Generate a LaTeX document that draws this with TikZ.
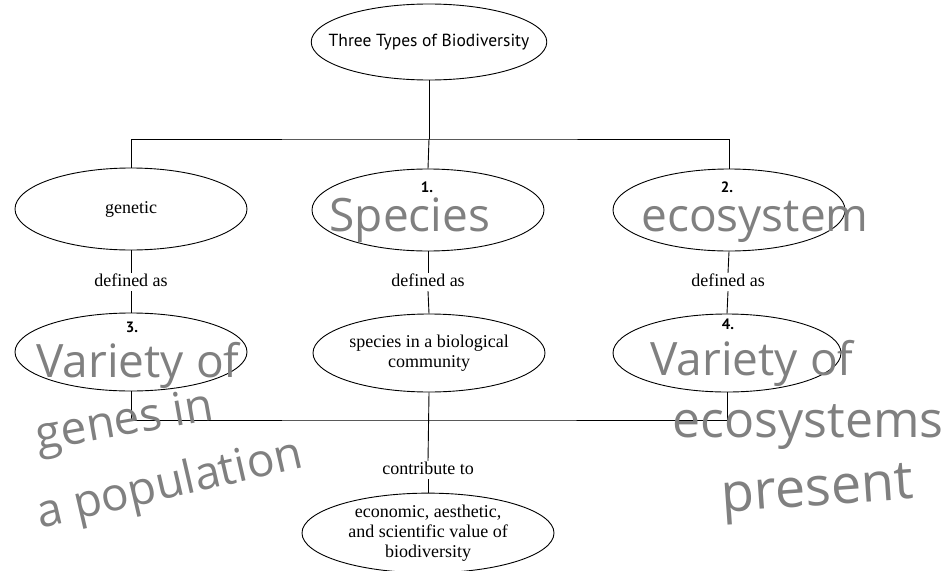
\documentclass[tikz,border=0pt]{standalone}
\usepackage{fontspec}
\setmainfont{Liberation Serif}
\newfontfamily\labelfont{PT Sans}
\newfontfamily\handfont{Open Sans}
\usetikzlibrary{shapes.geometric}
\begin{document}
\begin{tikzpicture}[x=1pt,y=-1pt]
\tikzset{
	oval node/.style={ellipse,draw,line width=0.9pt,inner sep=0pt,align=center,font=\fontsize{18}{20}\selectfont},
	link text/.style={inner sep=1pt,font=\fontsize{18}{20}\selectfont,text height=12pt,text depth=4pt},
	blank num/.style={inner sep=0pt,font=\labelfont\bfseries\fontsize{15}{18}\selectfont},
	hand text/.style={inner sep=0pt,text=black!50,font=\handfont\fontsize{46}{46}\selectfont}
}
\useasboundingbox (0,0) rectangle (944,570);
% top
\node[oval node,minimum width=232pt,minimum height=76pt,inner xsep=-17pt,font=\labelfont\fontsize{17.5}{20}\selectfont] (types) at (429,42) {Three Types of Biodiversity};
\coordinate (topj) at (429,139);
% three types
\node[oval node,minimum width=232pt,minimum height=82pt] (genetic) at (131,209) {genetic};
\node[oval node,minimum width=232pt,minimum height=82pt] (species) at (428,210) {};
\node[oval node,minimum width=232pt,minimum height=82pt] (ecosystem) at (729,210) {};
\node[blank num] (num1) at (427,187) {1.};
\node[blank num] (num2) at (727,187) {2.};
\node[link text] (def1) at (131,282) {defined as};
\node[link text] (def2) at (428,282) {defined as};
\node[link text] (def3) at (728,282) {defined as};
% definitions
\node[oval node,minimum width=232pt,minimum height=78pt] (vargenes) at (131,352) {};
\node[oval node,minimum width=232pt,minimum height=78pt] (community) at (429,353) {species in a biological\\community};
\node[oval node,minimum width=228pt,minimum height=78pt] (varecos) at (727,353) {};
\node[blank num] (num3) at (132,327) {3.};
\node[blank num] (num4) at (728,324) {4.};
\coordinate (botj) at (429,420);
\node[link text] (contrib) at (428,470) {contribute to};
\node[oval node,minimum width=252pt,minimum height=72pt] (value) at (428,533) {economic, aesthetic,\\and scientific value of\\biodiversity};
% connectors
\draw[line width=0.9pt] (types.south) -- (topj);
\draw[line width=0.9pt] (genetic.north) |- (topj) -| (ecosystem.north);
\draw[line width=0.9pt] (topj) -- (species.north);
\draw[line width=0.9pt] (genetic.south) -- (def1.north);
\draw[line width=0.9pt] (def1.south) -- (vargenes.north);
\draw[line width=0.9pt] (species.south) -- (def2.north);
\draw[line width=0.9pt] (def2.south) -- (community.north);
\draw[line width=0.9pt] (ecosystem.south) -- (def3.north);
\draw[line width=0.9pt] (def3.south) -- (varecos.north);
\draw[line width=0.9pt] (vargenes.south) |- (botj) -| (varecos.south);
\draw[line width=0.9pt] (community.south) -- (contrib.north);
\draw[line width=0.9pt] (contrib.south) -- (value.north);
% handwritten answers
\node[hand text] (hspecies) at (410,220) {Species};
\node[hand text] (hecosystem) at (755,222) {ecosystem};
\node[hand text] (hvargenes) at (138,365) {Variety of};
\node[hand text,rotate=10] (hgenes) at (125,424) {genes in};
\node[hand text,rotate=13] (hpop) at (170,486) {a population};
\node[hand text] (hvarecos) at (752,363) {Variety of};
\node[hand text,font=\handfont\fontsize{50}{50}\selectfont] (hecos) at (808,427) {ecosystems};
\node[hand text,rotate=4,font=\handfont\fontsize{54}{54}\selectfont] (hpresent) at (818,494) {present};
\end{tikzpicture}
\end{document}
